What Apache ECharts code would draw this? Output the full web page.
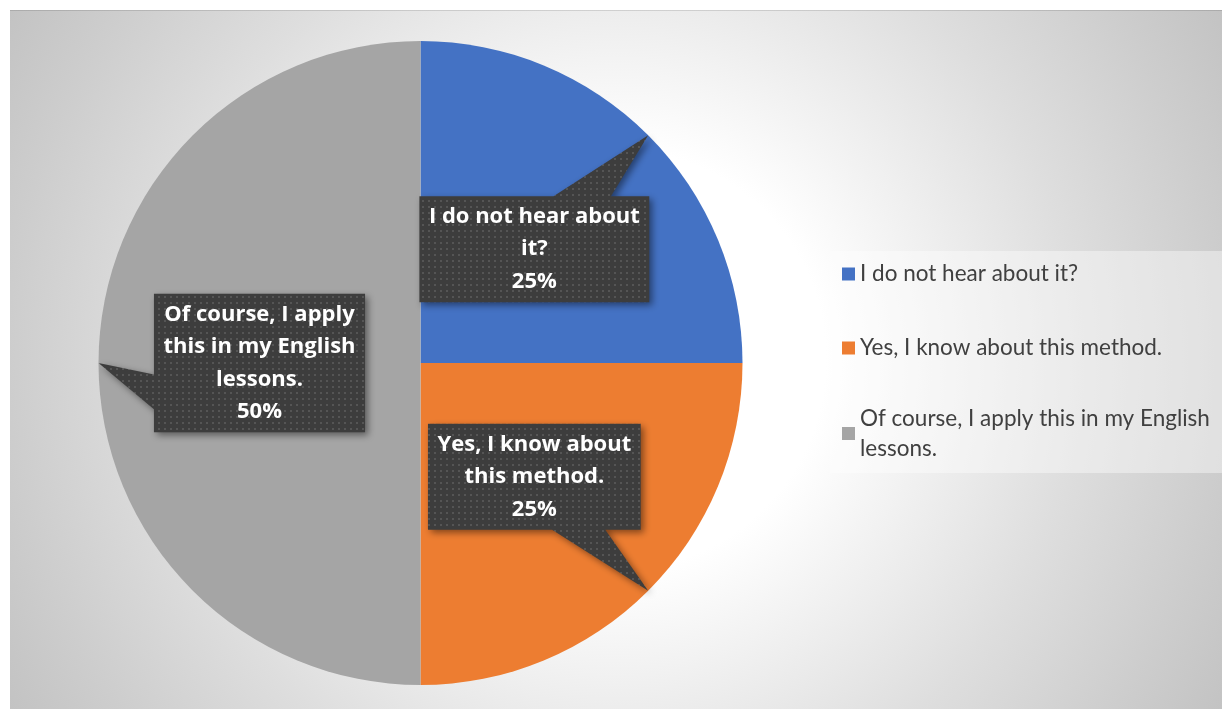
<!DOCTYPE html>
<html>
<head>
<meta charset="utf-8">
<script src="https://cdn.jsdelivr.net/npm/echarts@6/dist/echarts.min.js"></script>
<style>
  html, body { margin: 0; padding: 0; background: #ffffff; }
  #chart { width: 1222px; height: 709px; }
</style>
</head>
<body>
<div id="chart"></div>
<script>
// Survey answers and their shares (percent)
const categories = [
  'I do not hear about it?',
  'Yes, I know about this method.',
  'Of course, I apply this in my English lessons.'
];
const shares = [25, 25, 50];
const sliceColors = ['#4472C4', '#ED7D31', '#A5A5A5'];

// Layout of the pie, its callout labels and the legend text
const PIE = { cx: 420.5, cy: 363, r: 322 };
const LABEL = {
  fontFamily: '"Open Sans", Lato, sans-serif',
  fontSize: 22,
  lineHeight: 32.5,
  wrapWidth: 226,
  padX: 9.5,
  padY: 4.25
};
const LEGEND_TEXT = {
  fontFamily: 'Lato, "Open Sans", sans-serif',
  fontSize: 22.5,
  wrapWidth: 352
};

const measureCtx = document.createElement('canvas').getContext('2d');

// Greedy word wrap for a given canvas font and maximum line width
function wrapWords(text, font, maxWidth) {
  measureCtx.font = font;
  const words = text.split(' ');
  const lines = [];
  let cur = '';
  words.forEach(function (w) {
    const trial = cur ? cur + ' ' + w : w;
    if (cur && measureCtx.measureText(trial).width > maxWidth) {
      lines.push(cur);
      cur = w;
    } else {
      cur = trial;
    }
  });
  if (cur) lines.push(cur);
  return lines;
}

// Rectangular speech-bubble outline with a wedge pointing at (tx, ty)
function calloutPoints(cx, cy, w, h, tx, ty) {
  const l = cx - w / 2, t = cy - h / 2, r = l + w, b = t + h;
  const dxPos = tx - cx, dyPos = ty - cy;
  const horizontal = Math.abs(dxPos * h / w) - Math.abs(dyPos) > 0;
  const x1 = l + w * (dxPos > 0 ? 7 : 2) / 12;
  const x2 = l + w * (dxPos > 0 ? 10 : 5) / 12;
  const y1 = t + h * (dyPos > 0 ? 7 : 2) / 12;
  const y2 = t + h * (dyPos > 0 ? 10 : 5) / 12;
  const pts = [[l, t]];
  if (!horizontal && dyPos < 0) pts.push([x1, t], [tx, ty], [x2, t]);
  pts.push([r, t]);
  if (horizontal && dxPos > 0) pts.push([r, y1], [tx, ty], [r, y2]);
  pts.push([r, b]);
  if (!horizontal && dyPos > 0) pts.push([x2, b], [tx, ty], [x1, b]);
  pts.push([l, b]);
  if (horizontal && dxPos < 0) pts.push([l, y2], [tx, ty], [l, y1]);
  return pts;
}

const labelFont = 'bold ' + LABEL.fontSize + 'px ' + LABEL.fontFamily;
const total = shares.reduce(function (a, b) { return a + b; }, 0);
let cumulative = 0;
const callouts = shares.map(function (v, i) {
  const mid = (cumulative + v / 2) / total;
  cumulative += v;
  const ang = (90 - 360 * mid) * Math.PI / 180;
  const tipX = PIE.cx + PIE.r * Math.cos(ang);
  const tipY = PIE.cy - PIE.r * Math.sin(ang);
  const bx = PIE.cx + 0.5 * PIE.r * Math.cos(ang);
  const by = PIE.cy - 0.5 * PIE.r * Math.sin(ang);
  const lines = wrapWords(categories[i], labelFont, LABEL.wrapWidth);
  lines.push(Math.round(v / total * 100) + '%');
  measureCtx.font = labelFont;
  let maxW = 0;
  lines.forEach(function (s) { maxW = Math.max(maxW, measureCtx.measureText(s).width); });
  const w = maxW + LABEL.padX * 2;
  const h = lines.length * LABEL.lineHeight + LABEL.padY * 2;
  return {
    text: lines.join('\n'),
    bx: bx, by: by,
    points: calloutPoints(bx, by, w, h, tipX, tipY)
  };
});

// Dark fill with a fine grid of lighter dots
const tile = document.createElement('canvas');
tile.width = 6; tile.height = 6;
const tctx = tile.getContext('2d');
tctx.fillStyle = '#3d3d3d';
tctx.fillRect(0, 0, 6, 6);
tctx.fillStyle = '#555555';
tctx.fillRect(2, 2, 2, 2);
const dotPattern = { image: tile, repeat: 'repeat' };

const legendFont = LEGEND_TEXT.fontSize + 'px ' + LEGEND_TEXT.fontFamily;

const chart = echarts.init(document.getElementById('chart'), null, { renderer: 'canvas' });

chart.setOption({
  backgroundColor: '#ffffff',
  animation: false,
  graphic: [
    {
      type: 'rect', z: 0, silent: true,
      shape: { x: 10, y: 10, width: 1212, height: 699 },
      style: {
        fill: {
          type: 'radial', x: 0.5, y: 0.5, r: 1.0,
          colorStops: [
            { offset: 0, color: '#ffffff' },
            { offset: 0.3, color: '#ffffff' },
            { offset: 0.66, color: '#dedede' },
            { offset: 0.87, color: '#cdcdcd' },
            { offset: 1, color: '#c3c3c3' }
          ]
        }
      }
    },
    {
      type: 'rect', z: 0, silent: true,
      shape: { x: 10, y: 10, width: 1212, height: 1 },
      style: { fill: 'rgba(0,0,0,0.12)' }
    },
    {
      type: 'rect', z: 1, silent: true,
      shape: { x: 830, y: 251, width: 392, height: 222 },
      style: { fill: 'rgba(255,255,255,0.4)' }
    }
  ],
  legend: {
    orient: 'vertical',
    left: 830,
    top: 251,
    padding: [8, 12, 8, 12],
    itemWidth: 13,
    itemHeight: 13,
    itemGap: 44,
    icon: 'rect',
    selectedMode: false,
    formatter: function (name) {
      return wrapWords(name, legendFont, LEGEND_TEXT.wrapWidth).join('\n');
    },
    textStyle: {
      fontFamily: LEGEND_TEXT.fontFamily,
      fontSize: LEGEND_TEXT.fontSize,
      color: '#404040',
      lineHeight: 30
    },
    data: [
      { name: categories[0] },
      { name: categories[1] },
      { name: categories[2], textStyle: { padding: [0, 0, -30, 0] } }
    ]
  },
  series: [
    {
      type: 'pie',
      z: 2,
      silent: true,
      center: [PIE.cx, PIE.cy],
      radius: PIE.r,
      startAngle: 90,
      clockwise: true,
      label: { show: false },
      labelLine: { show: false },
      emphasis: { disabled: true },
      itemStyle: { borderWidth: 0 },
      data: categories.map(function (name, i) {
        return { name: name, value: shares[i], itemStyle: { color: sliceColors[i] } };
      })
    },
    {
      type: 'custom',
      z: 5,
      silent: true,
      coordinateSystem: 'none',
      data: shares.map(function (v, i) { return [i, v]; }),
      renderItem: function (params, api) {
        const c = callouts[api.value(0)];
        return {
          type: 'group',
          children: [
            {
              type: 'polygon',
              shape: { points: c.points },
              style: {
                fill: dotPattern,
                shadowBlur: 7,
                shadowOffsetX: 3,
                shadowOffsetY: 3,
                shadowColor: 'rgba(0,0,0,0.45)'
              }
            },
            {
              type: 'text',
              x: c.bx,
              y: c.by,
              style: {
                text: c.text,
                fill: '#ffffff',
                fontFamily: LABEL.fontFamily,
                fontSize: LABEL.fontSize,
                fontWeight: 'bold',
                lineHeight: LABEL.lineHeight,
                align: 'center',
                verticalAlign: 'middle'
              }
            }
          ]
        };
      }
    }
  ]
});
</script>
</body>
</html>
